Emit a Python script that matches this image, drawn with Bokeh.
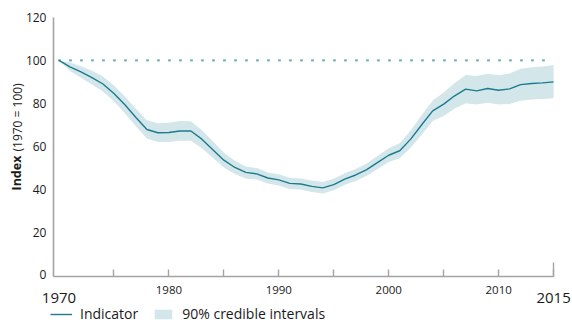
import math
from bokeh.plotting import figure
from bokeh.models import (ColumnDataSource, FixedTicker, Range1d, Label, Legend,
                          LegendItem, LinearAxis)
from bokeh.embed import file_html
from bokeh.resources import INLINE

# ---- data ----
years = list(range(1970, 2016))
index = [100, 97.0, 94.6, 92.0, 89.0, 84.6, 79.3, 73.4, 67.8, 66.3,
         66.4, 67.1, 67.1, 63.3, 58.4, 53.5, 50.1, 47.8, 47.1, 45.2,
         44.3, 42.7, 42.4, 41.3, 40.6, 42.1, 44.7, 46.6, 49.1, 52.5,
         55.8, 57.9, 63.3, 70.0, 76.5, 79.6, 83.5, 86.6, 85.8, 86.9,
         86.1, 86.7, 88.7, 89.2, 89.5, 90.0]
upper = [100, 99.0, 97.3, 95.2, 92.5, 88.3, 83.2, 77.5, 72.1, 70.7,
         70.9, 71.7, 71.6, 67.5, 62.3, 57.0, 53.2, 50.6, 49.8, 47.8,
         46.9, 45.3, 45.0, 44.0, 43.3, 44.8, 47.4, 49.4, 52.0, 55.6,
         59.0, 61.4, 67.3, 74.5, 81.3, 85.0, 89.5, 93.2, 92.7, 93.8,
         93.1, 93.9, 96.1, 96.8, 97.2, 97.9]
lower = [100, 95.0, 91.9, 88.8, 85.5, 80.9, 75.4, 69.3, 63.6, 62.0,
         62.0, 62.6, 62.6, 59.0, 54.6, 50.1, 47.1, 45.0, 44.5, 42.6,
         41.7, 40.1, 39.8, 38.7, 38.0, 39.5, 42.0, 43.8, 46.2, 49.4,
         52.6, 54.4, 59.3, 65.4, 71.7, 74.1, 77.6, 80.0, 79.4, 80.2,
         79.5, 79.7, 81.2, 81.8, 82.0, 82.4]
BASE = 100
x_ticks = [1975, 1980, 1985, 1990, 1995, 2000, 2005, 2010, 2015]
x_tick_labels = {1975: "", 1980: "1980", 1985: "", 1990: "1990", 1995: "",
                 2000: "2000", 2005: "", 2010: "2010", 2015: ""}
end_tick = [2015]
y_ticks = [0, 20, 40, 60, 80, 100, 120]
end_labels = ["1970", "2015"]

# axis extents (data units)
X_MIN, X_MAX = 1969.5, 2015
Y_MIN, Y_MAX = -0.7, 120

FONT = "Open Sans"
LINE_C = "#1c7b8f"
BAND_C = "#d3e6ea"
AXIS_C = "#a3a3a3"
TXT_C = "#1a1a1a"

src = ColumnDataSource(dict(year=years, index=index, upper=upper, lower=lower,
                            base=[BASE] * len(years)))

# frame covers the whole canvas; axes are pinned inside with fixed_location
p = figure(width=572, height=323, output_backend="svg", toolbar_location=None,
           x_range=Range1d(1964.68, 2016.72), y_range=Range1d(-22.6, 127.9),
           min_border_left=0, min_border_right=0, min_border_top=0,
           min_border_bottom=0)
p.outline_line_color = None
p.grid.grid_line_color = None
p.background_fill_color = "white"
p.border_fill_color = "white"

band = p.varea(x="year", y1="lower", y2="upper", source=src, fill_color=BAND_C)
p.line(x="year", y="base", source=src, line_color="#74b2be", line_width=2.2,
       line_dash="1 10", line_cap="round")
ln = p.line(x="year", y="index", source=src, line_color=LINE_C, line_width=1.4)

xa = p.xaxis[0]
xa.fixed_location = Y_MIN
xa.bounds = (X_MIN, X_MAX)
xa.ticker = FixedTicker(ticks=x_ticks)
xa.major_label_overrides = x_tick_labels
xa.major_tick_in = 7
xa.major_tick_out = 0
xa.minor_tick_in = 0
xa.minor_tick_out = 0
xa.axis_line_color = AXIS_C
xa.axis_line_width = 1.6
xa.major_tick_line_color = AXIS_C
xa.major_tick_line_width = 1.4
xa.major_label_text_font = FONT
xa.major_label_text_font_size = "11.5px"
xa.major_label_text_color = TXT_C
xa.major_label_standoff = 10

# taller end tick at 2015
xa_end = LinearAxis(fixed_location=Y_MIN, ticker=FixedTicker(ticks=end_tick),
                    major_label_overrides={2015: ""}, major_tick_in=14,
                    major_tick_out=0, minor_tick_in=0, minor_tick_out=0,
                    axis_line_color=None, major_tick_line_color=AXIS_C,
                    major_tick_line_width=1.4)
p.add_layout(xa_end, "below")

ya = p.yaxis[0]
ya.fixed_location = X_MIN
ya.bounds = (Y_MIN, Y_MAX)
ya.ticker = FixedTicker(ticks=y_ticks)
ya.major_tick_in = 0
ya.major_tick_out = 0
ya.minor_tick_in = 0
ya.minor_tick_out = 0
ya.axis_line_color = AXIS_C
ya.axis_line_width = 1.6
ya.major_label_text_font = FONT
ya.major_label_text_font_size = "12px"
ya.major_label_text_color = TXT_C
ya.major_label_standoff = 7

# larger end-year labels
for yr_txt in end_labels:
    p.add_layout(Label(x=int(yr_txt), y=26, x_units="data", y_units="screen",
                       text=yr_txt, text_font=FONT, text_font_size="15px",
                       text_color=TXT_C, text_align="center",
                       text_baseline="middle"))

# y-axis title (mixed styles)
p.add_layout(Label(x=16, y=133, x_units="screen", y_units="screen",
                   text="Index", text_font=FONT, text_font_size="12.5px",
                   text_font_style="bold", text_color=TXT_C,
                   angle=math.pi / 2, text_align="left", text_baseline="middle"))
p.add_layout(Label(x=17, y=172, x_units="screen", y_units="screen",
                   text="(1970 = 100)", text_font=FONT, text_font_size="12px",
                   text_color=TXT_C,
                   angle=math.pi / 2, text_align="left", text_baseline="middle"))

legend = Legend(items=[LegendItem(label="Indicator", renderers=[ln]),
                       LegendItem(label="90% credible intervals", renderers=[band])],
                location=(50, 0), orientation="horizontal",
                label_text_font=FONT, label_text_font_size="14px",
                label_text_color=TXT_C, glyph_width=22, glyph_height=12,
                label_standoff=8, spacing=14, padding=0, margin=0,
                border_line_color=None, background_fill_alpha=0)
p.add_layout(legend)

open("out.html", "w").write(file_html(p, INLINE))
